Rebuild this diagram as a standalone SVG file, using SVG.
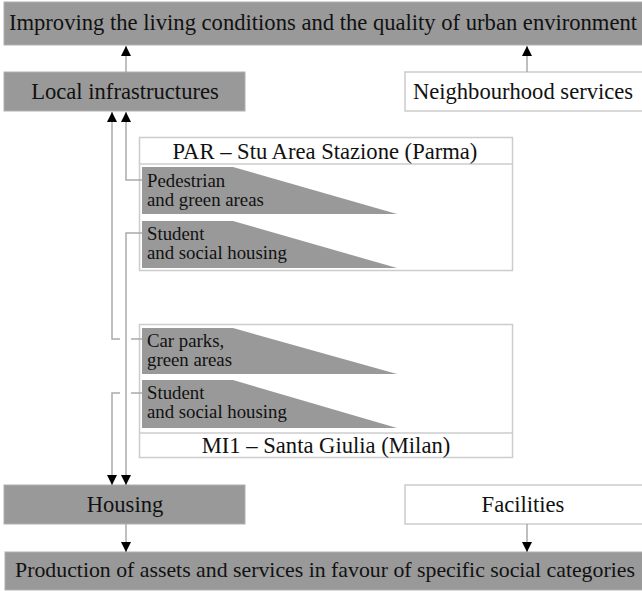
<svg xmlns="http://www.w3.org/2000/svg" width="642" height="591" viewBox="0 0 642 591">
<style>
.g{fill:#999999;stroke:#b0b0b0;stroke-width:1}
.w{fill:#ffffff;stroke:#cccccc;stroke-width:1.5}
.sh{fill:#999999}
.t{font-family:"Liberation Serif","Times New Roman",serif;fill:#111111}
.big{font-size:22.6px}
.sm{font-size:18.8px}
.c{fill:none;stroke:#aaaaaa;stroke-width:1.5}
</style>
<defs>
<marker id="ah" markerUnits="userSpaceOnUse" markerWidth="10" markerHeight="10" viewBox="0 0 10 10" refX="10" refY="5" orient="auto">
<path d="M0,0 L10,5 L0,10 z" fill="#000"/>
</marker>
</defs>
<rect width="642" height="591" fill="#ffffff"/>
<g id="top">
<rect class="g" x="4" y="2" width="640" height="43"/>
<text class="t big" x="323" y="30" text-anchor="middle">Improving the living conditions and the quality of urban environment</text>
</g>
<g id="local">
<rect class="g" x="4" y="72" width="241" height="39"/>
<text class="t big" x="125" y="99" text-anchor="middle">Local infrastructures</text>
</g>
<g id="neigh">
<rect class="w" x="405" y="72" width="238" height="39"/>
<text class="t big" x="523" y="99" text-anchor="middle">Neighbourhood services</text>
</g>
<g id="par">
<rect class="w" x="139.5" y="137.5" width="373" height="133"/>
<line x1="139.5" y1="164" x2="512.5" y2="164" stroke="#cccccc" stroke-width="1.5"/>
<text class="t big" x="325" y="159" text-anchor="middle">PAR – Stu Area Stazione (Parma)</text>
</g>
<g id="par-ped">
<polygon class="sh" points="142,167 233,167 397,214 142,214"/>
<text class="t sm" x="147" y="187">Pedestrian</text>
<text class="t sm" x="147" y="206">and green areas</text>
</g>
<g id="par-stu">
<polygon class="sh" points="142,221 233,221 397,268 142,268"/>
<text class="t sm" x="147" y="240">Student</text>
<text class="t sm" x="147" y="259">and social housing</text>
</g>
<g id="mi1">
<rect class="w" x="139.5" y="324.5" width="373" height="133"/>
<line x1="139.5" y1="433" x2="512.5" y2="433" stroke="#cccccc" stroke-width="1.5"/>
<text class="t big" x="326" y="453" text-anchor="middle">MI1 – Santa Giulia (Milan)</text>
</g>
<g id="mi1-car">
<polygon class="sh" points="142,328 233,328 397,374 142,374"/>
<text class="t sm" x="147" y="347">Car parks,</text>
<text class="t sm" x="147" y="366">green areas</text>
</g>
<g id="mi1-stu">
<polygon class="sh" points="142,380 233,380 397,428 142,428"/>
<text class="t sm" x="147" y="399">Student</text>
<text class="t sm" x="147" y="418">and social housing</text>
</g>
<g id="housing">
<rect class="g" x="4" y="485" width="241" height="39"/>
<text class="t big" x="125" y="512" text-anchor="middle">Housing</text>
</g>
<g id="facilities">
<rect class="w" x="405" y="485" width="238" height="39"/>
<text class="t big" x="523" y="512" text-anchor="middle">Facilities</text>
</g>
<g id="bottom">
<rect class="g" x="5" y="552" width="640" height="38"/>
<text class="t" x="325" y="577" text-anchor="middle" style="font-size:21.8px">Production of assets and services in favour of specific social categories</text>
</g>
<g id="connectors">
<path class="c" d="M126,72 V46" marker-end="url(#ah)"/>
<path class="c" d="M527,72 V46" marker-end="url(#ah)"/>
<path class="c" d="M142,180 H126 V112" marker-end="url(#ah)"/>
<path class="c" d="M142,339 H131 M120,339 H112 V112" marker-end="url(#ah)"/>
<path class="c" d="M142,233 H126 V485" marker-end="url(#ah)"/>
<path class="c" d="M142,393 H131 M120,393 H112 V485" marker-end="url(#ah)"/>
<path class="c" d="M126,524 V552" marker-end="url(#ah)"/>
<path class="c" d="M527,524 V552" marker-end="url(#ah)"/>
</g>
</svg>
